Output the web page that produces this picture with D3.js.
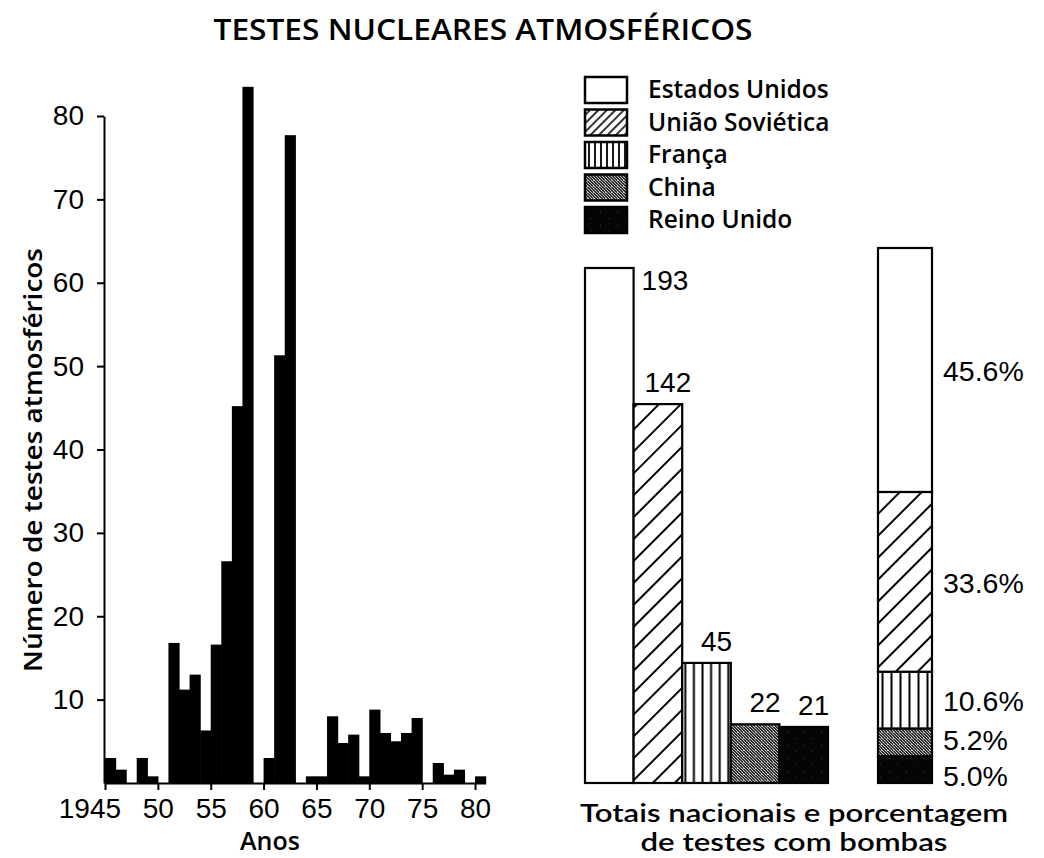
<!DOCTYPE html>
<html><head><meta charset="utf-8">
<script src="https://cdn.jsdelivr.net/npm/d3@7"></script>
<style>
html,body{margin:0;padding:0;background:#fff;}
svg{display:block;}
</style></head><body>
<svg id="chart" width="1044" height="858"></svg>
<script>
// ---------- DATA ----------
const years = [1945,1946,1947,1948,1949,1950,1951,1952,1953,1954,1955,1956,1957,1958,1959,1960,1961,1962,
               1963,1964,1965,1966,1967,1968,1969,1970,1971,1972,1973,1974,1975,1976,1977,1978,1979,1980];
const testsPerYear = [3,1.6,0,3,0.8,0,16.8,11.2,13,6.3,16.6,26.6,45.2,83.5,0,3,51.3,77.7,
                      0,0.8,0.8,8,4.8,5.8,0.8,8.8,6,5,6,7.8,0,2.4,1,1.6,0,0.8];
const yTicks = [10,20,30,40,50,60,70,80];
const xTicks = [1945,1950,1955,1960,1965,1970,1975,1980];

const countries = ["Estados Unidos","União Soviética","França","China","Reino Unido"];
const totals = [193,142,45,22,21];
const percents = [45.6,33.6,10.6,5.2,5.0];
const percentLabels = ["45.6%","33.6%","10.6%","5.2%","5.0%"];

// ---------- SETUP ----------
const svg = d3.select("#chart");
const defs = svg.append("defs");
const HUM = "'Open Sans', 'Noto Sans', sans-serif";
const CAPF = "Lato, 'Open Sans', sans-serif";
const HEL = "'Liberation Sans', Arial, Helvetica, sans-serif";

function diag(id, s, sw){
  const p = defs.append("pattern").attr("id",id).attr("patternUnits","userSpaceOnUse")
    .attr("width",s).attr("height",s).attr("patternTransform","rotate(45)");
  p.append("rect").attr("width",s).attr("height",s).attr("fill","#fff");
  p.append("line").attr("x1",s/2).attr("y1",0).attr("x2",s/2).attr("y2",s)
    .attr("stroke","#000").attr("stroke-width",sw);
}
function vert(id, s, sw, ox){
  const p = defs.append("pattern").attr("id",id).attr("patternUnits","userSpaceOnUse")
    .attr("width",s).attr("height",10).attr("x",ox);
  p.append("rect").attr("width",s).attr("height",10).attr("fill","#fff");
  p.append("line").attr("x1",s/2).attr("y1",0).attr("x2",s/2).attr("y2",10)
    .attr("stroke","#000").attr("stroke-width",sw);
}
function stipple(id){
  const p = defs.append("pattern").attr("id",id).attr("patternUnits","userSpaceOnUse")
    .attr("width",6).attr("height",6);
  p.append("rect").attr("width",6).attr("height",6).attr("fill","#2e2e2e");
  const pts = [[0,0],[3,0],[1,1],[4,1],[2,2],[5,2],[0,3],[3,3],[1,4],[4,4],[2,5],[5,5],[5,0]];
  pts.forEach(q=>p.append("rect").attr("x",q[0]).attr("y",q[1]).attr("width",1).attr("height",1).attr("fill","#c4c4c4"));
}
function darkSpeck(id){
  const p = defs.append("pattern").attr("id",id).attr("patternUnits","userSpaceOnUse")
    .attr("width",17).attr("height",13);
  p.append("rect").attr("width",17).attr("height",13).attr("fill","#050505");
  p.append("rect").attr("x",5).attr("y",4).attr("width",1).attr("height",1).attr("fill","#444");
  p.append("rect").attr("x",13).attr("y",10).attr("width",1).attr("height",1).attr("fill","#333");
}
diag("pUSSR", 15.5, 2);
diag("pUSSRs", 6, 1.6);
vert("pFR", 8.6, 2, 681);
vert("pFRs", 6, 1.8, 586);
vert("pFRp", 9, 2, 878);
stipple("pCN");
darkSpeck("pUK");

const fills = ["#fff","url(#pUSSR)","url(#pFR)","url(#pCN)","url(#pUK)"];
const legendFills = ["#fff","url(#pUSSRs)","url(#pFRs)","url(#pCN)","url(#pUK)"];
const pctFills = ["#fff","url(#pUSSR)","url(#pFRp)","url(#pCN)","url(#pUK)"];

// ---------- TITLE ----------
svg.append("text").attr("x",483).attr("y",40).attr("text-anchor","middle")
  .attr("font-family",HUM).attr("font-weight",600).attr("font-size",29)
  .attr("textLength",539).attr("lengthAdjust","spacingAndGlyphs")
  .text("TESTES NUCLEARES ATMOSFÉRICOS");

// ---------- LEFT HISTOGRAM ----------
const x = d3.scaleLinear().domain([1945,1981]).range([105,485.6]);
const y = d3.scaleLinear().domain([0,80]).range([783,116]);

const hist = years.map((yr,i)=>({yr, v:testsPerYear[i]})).filter(d=>d.v>0);
svg.append("g").selectAll("rect").data(hist).join("rect")
  .attr("x",d=>x(d.yr)).attr("width",d=>x(d.yr+1)-x(d.yr)+0.6)
  .attr("y",d=>y(d.v)).attr("height",d=>y(0)-y(d.v)).attr("fill","#000");

const gy = svg.append("g").attr("transform","translate(104,0)")
  .call(d3.axisLeft(y).tickValues(yTicks).tickSize(7).tickSizeOuter(0).tickPadding(13));
gy.attr("font-family",HEL).attr("font-size",28);
gy.selectAll("path,line").attr("stroke","#000").attr("stroke-width",2);

const gx = svg.append("g").attr("transform","translate(0,783)")
  .call(d3.axisBottom(x).tickValues(xTicks).tickSize(7).tickSizeOuter(0).tickPadding(8)
    .tickFormat(d=> d===1945 ? "1945" : String(d).slice(2)));
gx.attr("font-family",HEL).attr("font-size",28);
gx.selectAll("path,line").attr("stroke","#000").attr("stroke-width",2);
gx.selectAll(".tick text").filter(d=>d===1945).attr("dx","-0.556em");

svg.append("text").attr("transform","translate(42,460) rotate(-90)").attr("text-anchor","middle")
  .attr("font-family",HUM).attr("font-weight",600).attr("font-size",25)
  .attr("textLength",424).attr("lengthAdjust","spacingAndGlyphs")
  .text("Número de testes atmosféricos");
svg.append("text").attr("x",270).attr("y",850).attr("text-anchor","middle")
  .attr("font-family",HUM).attr("font-weight",600).attr("font-size",25)
  .text("Anos");

// ---------- LEGEND ----------
const lg = svg.append("g");
countries.forEach((c,i)=>{
  const top = 77 + i*32.5;
  lg.append("rect").attr("x",585).attr("y",top).attr("width",42).attr("height",26)
    .attr("fill",legendFills[i]).attr("stroke","#000").attr("stroke-width",2.5);
  lg.append("text").attr("x",648).attr("y",top+21)
    .attr("font-family",HUM).attr("font-weight",600).attr("font-size",24.5).text(c);
});

// ---------- TOTALS BARS ----------
const xb = d3.scaleBand().domain(countries).range([585,828]).padding(0);
const yb = d3.scaleLinear().domain([0,193]).range([783,268]);
const tot = countries.map((c,i)=>({c, v:totals[i], f:fills[i]}));
svg.append("g").selectAll("rect").data(tot).join("rect")
  .attr("x",d=>xb(d.c)).attr("width",xb.bandwidth())
  .attr("y",d=>yb(d.v)).attr("height",d=>yb(0)-yb(d.v))
  .attr("fill",d=>d.f).attr("stroke","#000").attr("stroke-width",2.2);
svg.append("g").selectAll("text").data(tot).join("text")
  .attr("font-family",HEL).attr("font-size",28)
  .attr("text-anchor",(d,i)=> i===0 ? "start" : "middle")
  .attr("x",(d,i)=> i===0 ? xb(d.c)+xb.bandwidth()+8 : xb(d.c)+xb.bandwidth()/2+10)
  .attr("y",(d,i)=> i===0 ? yb(d.v)+22 : yb(d.v)-12)
  .text(d=>d.v);

// ---------- PERCENT STACK ----------
const ys = d3.scaleLinear().domain([0,100]).range([783,248]);
let cum = 0;
const stack = [];
for (let i = countries.length-1; i >= 0; i--) {
  stack.push({i, c:countries[i], y0:cum, y1:cum+percents[i], f:pctFills[i], lab:percentLabels[i]});
  cum += percents[i];
}
const labelNudge = {3:-3, 4:5};
svg.append("g").selectAll("rect").data(stack).join("rect")
  .attr("x",878).attr("width",54)
  .attr("y",d=>ys(d.y1)).attr("height",d=>ys(d.y0)-ys(d.y1))
  .attr("fill",d=>d.f).attr("stroke","#000").attr("stroke-width",2.2);
svg.append("g").selectAll("text").data(stack).join("text")
  .attr("font-family",HEL).attr("font-size",28.5)
  .attr("x",943).attr("y",d=>ys((d.y0+d.y1)/2)+11+(labelNudge[d.i]||0))
  .text(d=>d.lab);

// ---------- CAPTION ----------
svg.append("text").attr("x",794).attr("y",822).attr("text-anchor","middle")
  .attr("font-family",CAPF).attr("font-weight",600).attr("font-size",24)
  .attr("textLength",428).attr("lengthAdjust","spacingAndGlyphs")
  .text("Totais nacionais e porcentagem");
svg.append("text").attr("x",794).attr("y",851).attr("text-anchor","middle")
  .attr("font-family",CAPF).attr("font-weight",600).attr("font-size",24)
  .attr("textLength",307).attr("lengthAdjust","spacingAndGlyphs")
  .text("de testes com bombas");
</script>
</body></html>
